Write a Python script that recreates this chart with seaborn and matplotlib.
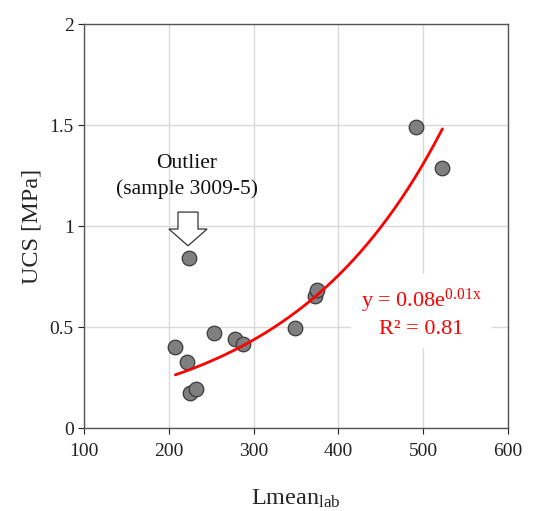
import numpy as np
import pandas as pd
import seaborn as sns
import matplotlib.pyplot as plt

# values
lmean_lab = [491.5, 522.6, 207.7, 221.8, 225.0, 231.7, 253.3, 278.5, 287.9, 348.8, 372.4, 374.4]
ucs_mpa = [1.49, 1.287, 0.40, 0.328, 0.172, 0.193, 0.469, 0.44, 0.414, 0.493, 0.653, 0.683]
outlier_x = [223.8]
outlier_y = [0.84]

x_ticks = [100, 200, 300, 400, 500, 600]
y_ticks = [0, 0.5, 1, 1.5, 2]
y_ticklabels = ["0", "0.5", "1", "1.5", "2"]

df = pd.DataFrame({"Lmean": lmean_lab + outlier_x, "UCS": ucs_mpa + outlier_y})

sns.set_theme(style="whitegrid")
plt.rcParams["font.family"] = ["Liberation Serif", "DejaVu Serif"]
plt.rcParams["mathtext.fontset"] = "custom"
plt.rcParams["mathtext.rm"] = "Liberation Serif"
plt.rcParams["mathtext.it"] = "Liberation Serif:italic"

fig = plt.figure(figsize=(5.51, 5.11), dpi=100)
ax = fig.add_axes([0.1525, 0.1624, 0.7695, 0.7906])

# exponential trendline (outlier excluded)
b, ln_a = np.polyfit(np.array(lmean_lab), np.log(np.array(ucs_mpa)), 1)
a = np.exp(ln_a)
xf = np.linspace(min(lmean_lab), max(lmean_lab), 200)
yf = a * np.exp(b * xf)

sns.scatterplot(data=df, x="Lmean", y="UCS", ax=ax, s=110, color="#7f7f7f",
                edgecolor="#3a3a3a", linewidth=0.9, zorder=3)
ax.plot(xf, yf, color="#ff0000", lw=2.0, zorder=4)

ax.set_xlim(100, 600)
ax.set_ylim(0, 2)
ax.set_xticks(x_ticks)
ax.set_yticks(y_ticks)
ax.set_yticklabels(y_ticklabels)
ax.tick_params(axis="both", labelsize=14, colors="#222222", length=4, width=0.8,
               direction="out", bottom=True, left=True)
ax.tick_params(axis="x", pad=7)
ax.grid(True, color="#d9d9d9", lw=1.0)
for s in ax.spines.values():
    s.set_color("#555555")
    s.set_linewidth(1.0)

ax.set_xlabel("Lmean$_{\\mathrm{lab}}$", fontsize=17.5, labelpad=20)
ax.set_ylabel("UCS [MPa]", fontsize=17.5, labelpad=5)

# outlier annotation
ax.text(221.5, 1.245, "Outlier\n(sample 3009-5)", ha="center", va="center",
        fontsize=15.5, linespacing=1.45, color="#111111", zorder=5)
ax.arrow(222.6, 1.069, 0, -0.167, width=23.6, head_width=45, head_length=0.083,
         length_includes_head=True, fc="white", ec="#333333", lw=0.9, zorder=5)

ax.text(498, 0.57, "y = 0.08e$^{\\mathrm{0.01x}}$\nR² = 0.81", ha="center", va="center",
        fontsize=16, color="#ff0000", linespacing=1.3, zorder=5,
        bbox=dict(facecolor="white", edgecolor="none", pad=7))

fig.savefig("out.png", dpi=100)
